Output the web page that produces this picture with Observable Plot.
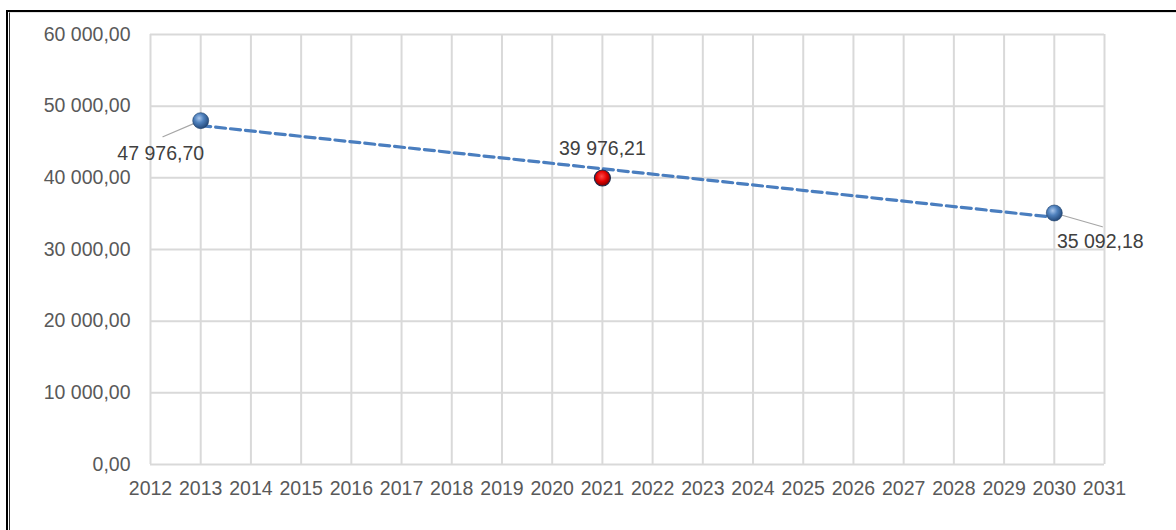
<!DOCTYPE html>
<html><head><meta charset="utf-8">
<script src="https://cdn.jsdelivr.net/npm/d3@7"></script>
<script src="https://cdn.jsdelivr.net/npm/@observablehq/plot@0.6"></script>
<style>
body{margin:0;background:#fff;}
#wrap{position:relative;width:1176px;height:530px;overflow:hidden;background:#fff;}
#chart{position:absolute;left:0;top:0;}
.f1{position:absolute;left:6px;top:10px;right:-20px;bottom:-20px;border-left:2px solid #000;border-top:2px solid #000;}
.f2{position:absolute;left:9px;top:12px;right:-20px;bottom:-20px;border-left:1px solid #333;border-top:1px solid #e2e2e2;}
</style></head>
<body>
<div id="wrap"><div id="chart"></div><div class="f1"></div><div class="f2"></div></div>
<script>
// blue series (2013 and forecast 2030)
const years = [2013, 2030];
const values = [47976.70, 35092.18];
// red highlighted point
const redYears = [2021];
const redValues = [39976.21];
// tick labels
const xTicks = [2012,2013,2014,2015,2016,2017,2018,2019,2020,2021,2022,2023,2024,2025,2026,2027,2028,2029,2030,2031];
const yTicks = [0,10000,20000,30000,40000,50000,60000];

const blue = years.map((x, i) => ({x, y: values[i]}));
const red = redYears.map((x, i) => ({x, y: redValues[i]}));
const all = [...blue, ...red];

const loc = d3.formatLocale({decimal: ",", thousands: " ", grouping: [3], currency: ["", ""]});
const fmt = loc.format(",.2f");

const grey = "#595959";
const plot = Plot.plot({
  width: 1176, height: 530,
  marginLeft: 150, marginRight: 72, marginTop: 34, marginBottom: 66,
  style: {fontFamily: "Liberation Sans, Arial, sans-serif", fontSize: "19.5px", color: grey, background: "transparent"},
  x: {domain: [2012, 2031], ticks: xTicks, tickFormat: d => String(d), tickSize: 0, tickPadding: 17, label: null},
  y: {domain: [0, 60000], ticks: yTicks, tickFormat: fmt, tickSize: 0, tickPadding: 20, label: null},
  marks: [
    Plot.gridX(xTicks, {stroke: "#d9d9d9", strokeOpacity: 1, strokeWidth: 2}),
    Plot.gridY(yTicks, {stroke: "#d9d9d9", strokeOpacity: 1, strokeWidth: 2}),
    Plot.axisX({ticks: xTicks, tickFormat: d => String(d), tickSize: 0, tickPadding: 17, fill: grey}),
    Plot.axisY({ticks: yTicks, tickFormat: fmt, tickSize: 0, tickPadding: 20, fill: grey}),
    Plot.linearRegressionY(all, {x: "x", y: "y", ci: 0, stroke: "#4a7ebf", strokeWidth: 3.2, strokeDasharray: "10,5"}),
    // leader lines
    Plot.vector(blue.filter(d => d.x === 2013), {x: "x", y: "y", anchor: "start", length: 41, rotate: 247, r: 0, stroke: "#a6a6a6", strokeWidth: 1.2}),
    Plot.vector(blue.filter(d => d.x === 2030), {x: "x", y: "y", anchor: "start", length: 50, rotate: 106, r: 0, stroke: "#a6a6a6", strokeWidth: 1.2}),
    Plot.dot(blue, {x: "x", y: "y", r: 8, fill: "url(#gBlue)", stroke: "#1f3f6a", strokeWidth: 0.6}),
    Plot.dot(red, {x: "x", y: "y", r: 8, fill: "url(#gRed)", stroke: "#1b2a4a", strokeWidth: 1.2}),
    Plot.text(blue.filter(d => d.x === 2013), {x: "x", y: "y", text: d => fmt(d.y), dx: -40, dy: 33, fill: "#404040"}),
    Plot.text(red, {x: "x", y: "y", text: d => fmt(d.y), dy: -29, fill: "#404040"}),
    Plot.text(blue.filter(d => d.x === 2030), {x: "x", y: "y", text: d => fmt(d.y), dx: 46, dy: 29, fill: "#404040"})
  ]
});

const svg = d3.select(plot);
const defs = svg.insert("defs", ":first-child");
const gb = defs.append("radialGradient").attr("id", "gBlue").attr("cx", "40%").attr("cy", "35%").attr("r", "65%");
gb.append("stop").attr("offset", "0%").attr("stop-color", "#a9c6ec");
gb.append("stop").attr("offset", "45%").attr("stop-color", "#4f81bd");
gb.append("stop").attr("offset", "100%").attr("stop-color", "#244a7c");
const gr = defs.append("radialGradient").attr("id", "gRed").attr("cx", "45%").attr("cy", "40%").attr("r", "60%");
gr.append("stop").attr("offset", "0%").attr("stop-color", "#ff4a4a");
gr.append("stop").attr("offset", "55%").attr("stop-color", "#e00000");
gr.append("stop").attr("offset", "100%").attr("stop-color", "#7a0000");

document.getElementById("chart").append(plot);
</script>
</body></html>
